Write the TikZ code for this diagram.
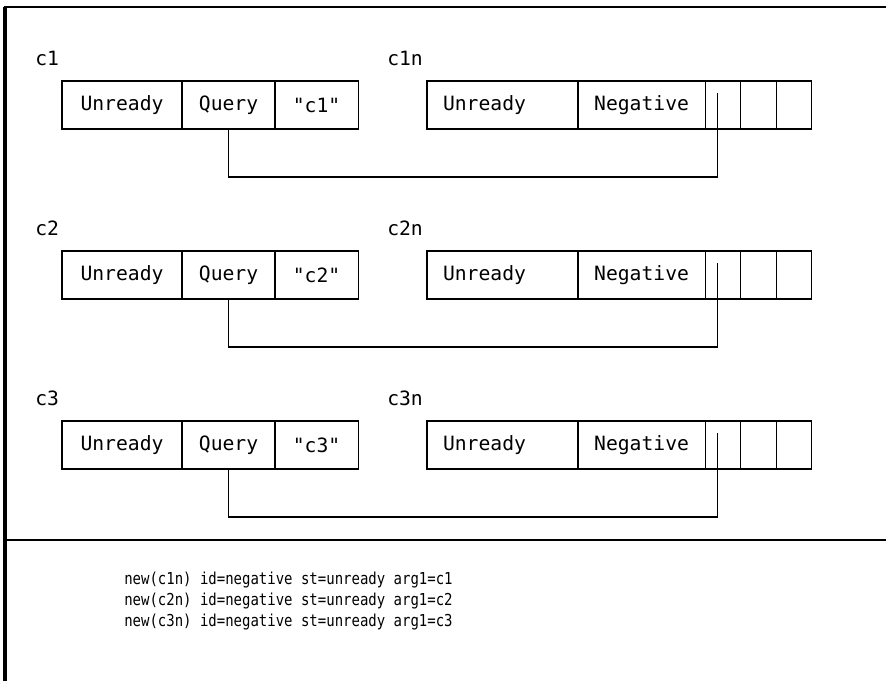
\documentclass[tikz,border=0pt]{standalone}
\usepackage{fontspec}
\setmonofont{DejaVu Sans Mono}
\newfontfamily\logfont[FakeStretch=0.85]{DejaVu Sans Mono}
\usetikzlibrary{positioning}

\begin{document}
\begin{tikzpicture}[x=0.025cm, y=-0.025cm,
    cell/.style={draw, line width=0.8pt, minimum height=1.2cm, inner sep=0pt, outer sep=0pt, font=\ttfamily\fontsize{14}{16}\selectfont},
    tag/.style={anchor=west, inner sep=0pt, font=\ttfamily\fontsize{14}{16}\selectfont},
    link/.style={line width=0.8pt}]
\useasboundingbox (0,0) rectangle (886,681);
% frame
\draw[line width=3pt] (5,7) -- (5,681);
\draw[line width=1.2pt] (4,7) -- (886,7);
\draw[line width=1.2pt] (5,540) -- (886,540);

% c1
\node[tag] (l1) at (35,58) {c1};
\node[cell, minimum width=3cm, anchor=north west] (u1) at (62,81) {Unready};
\node[cell, minimum width=2.325cm, right=0pt of u1] (q1) {Query};
\node[cell, minimum width=2.075cm, right=0pt of q1] (s1) {"c1"};
\node[tag] (ln1) at (387,58) {c1n};
\node[cell, minimum width=3.775cm, text width=2.975cm, align=left, anchor=north west] (nu1) at (427,81) {Unready};
\node[cell, minimum width=3.175cm, right=0pt of nu1] (ng1) {Negative};
\node[cell, minimum width=0.875cm, right=0pt of ng1] (p1) {};
\node[cell, minimum width=0.9cm, right=0pt of p1] (pp1) {};
\node[cell, minimum width=0.875cm, right=0pt of pp1] (ppp1) {};
\draw[link] (q1.south) -- ++(0,48) -| ([xshift=0.3cm, yshift=-0.3cm]p1.north west);

% c2
\node[tag] (l2) at (35,228) {c2};
\node[cell, minimum width=3cm, anchor=north west] (u2) at (62,251) {Unready};
\node[cell, minimum width=2.325cm, right=0pt of u2] (q2) {Query};
\node[cell, minimum width=2.075cm, right=0pt of q2] (s2) {"c2"};
\node[tag] (ln2) at (387,228) {c2n};
\node[cell, minimum width=3.775cm, text width=2.975cm, align=left, anchor=north west] (nu2) at (427,251) {Unready};
\node[cell, minimum width=3.175cm, right=0pt of nu2] (ng2) {Negative};
\node[cell, minimum width=0.875cm, right=0pt of ng2] (p2) {};
\node[cell, minimum width=0.9cm, right=0pt of p2] (pp2) {};
\node[cell, minimum width=0.875cm, right=0pt of pp2] (ppp2) {};
\draw[link] (q2.south) -- ++(0,48) -| ([xshift=0.3cm, yshift=-0.3cm]p2.north west);

% c3
\node[tag] (l3) at (35,398) {c3};
\node[cell, minimum width=3cm, anchor=north west] (u3) at (62,421) {Unready};
\node[cell, minimum width=2.325cm, right=0pt of u3] (q3) {Query};
\node[cell, minimum width=2.075cm, right=0pt of q3] (s3) {"c3"};
\node[tag] (ln3) at (387,398) {c3n};
\node[cell, minimum width=3.775cm, text width=2.975cm, align=left, anchor=north west] (nu3) at (427,421) {Unready};
\node[cell, minimum width=3.175cm, right=0pt of nu3] (ng3) {Negative};
\node[cell, minimum width=0.875cm, right=0pt of ng3] (p3) {};
\node[cell, minimum width=0.9cm, right=0pt of p3] (pp3) {};
\node[cell, minimum width=0.875cm, right=0pt of pp3] (ppp3) {};
\draw[link] (q3.south) -- ++(0,48) -| ([xshift=0.3cm, yshift=-0.3cm]p3.north west);

% log
\node[anchor=north west, inner sep=0pt, align=left, font=\logfont\fontsize{11.7}{15}\selectfont] (log) at (124,572)
  {new(c1n) id=negative st=unready arg1=c1\\
   new(c2n) id=negative st=unready arg1=c2\\
   new(c3n) id=negative st=unready arg1=c3};
\end{tikzpicture}
\end{document}
